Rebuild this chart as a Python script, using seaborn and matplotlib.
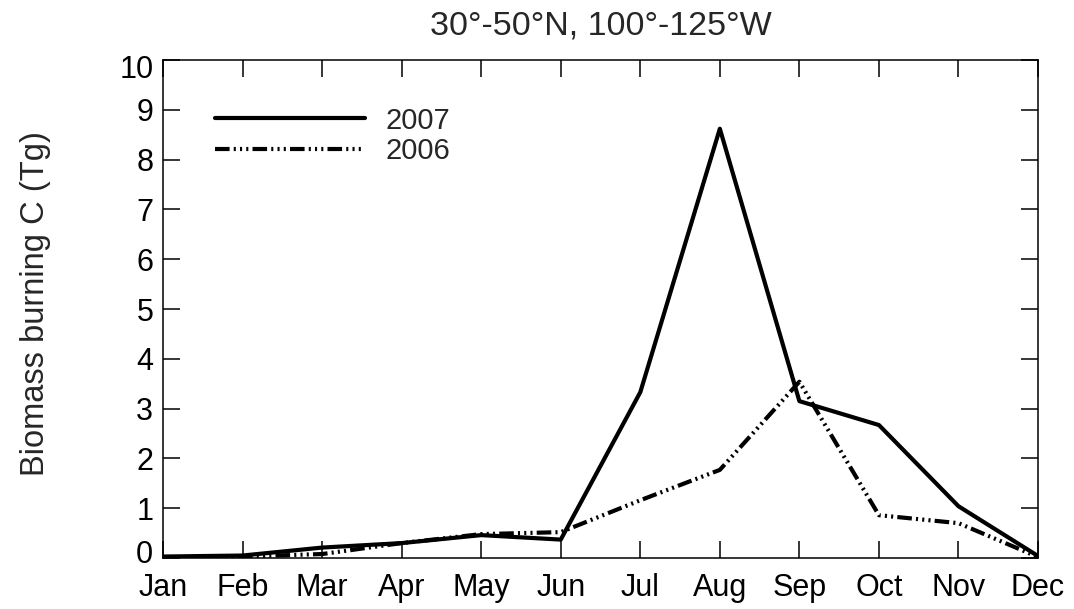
import matplotlib
matplotlib.use("Agg")
import matplotlib.pyplot as plt
import matplotlib.transforms as mtransforms
import seaborn as sns
import pandas as pd

months = ["Jan", "Feb", "Mar", "Apr", "May", "Jun",
          "Jul", "Aug", "Sep", "Oct", "Nov", "Dec"]
carbon_2007 = [0.03, 0.05, 0.21, 0.30, 0.46, 0.37, 3.33, 8.62, 3.15, 2.67, 1.04, 0.04]
carbon_2006 = [0.00, 0.03, 0.08, 0.30, 0.48, 0.52, 1.16, 1.77, 3.54, 0.86, 0.70, 0.02]
y_ticks = list(range(0, 11))

sns.set_theme(style="ticks")
plt.rcParams["font.family"] = ["Liberation Sans", "DejaVu Sans"]

df = pd.DataFrame({
    "month": list(range(12)) * 2,
    "carbon": carbon_2007 + carbon_2006,
    "year": ["2007"] * 12 + ["2006"] * 12,
})

fig = plt.figure(figsize=(10.74, 6.09), dpi=100)
ax = fig.add_axes([0.1518, 0.0837, 0.8147, 0.8178])

sns.lineplot(
    data=df, x="month", y="carbon", style="year",
    style_order=["2007", "2006"],
    dashes={"2007": "", "2006": (3.5, 1.0, 0.5, 1.0, 0.5, 1.0, 0.5, 1.0)},
    color="black", linewidth=3, ax=ax, legend=True,
)

ax.set_xlim(0, 11)
ax.set_ylim(0, 10)
ax.set_xticks(range(12))
ax.set_xticklabels(months)
ax.set_yticks(y_ticks)
ax.set_yticklabels([str(v) for v in y_ticks])
ax.tick_params(axis="both", direction="in", length=12, width=1.1,
               labelsize=22, colors="black", top=True, right=True)
ax.tick_params(axis="x", pad=11)
ax.tick_params(axis="y", pad=7)
for s in ax.spines.values():
    s.set_linewidth(1.1)
    s.set_color("black")

# nudge the end labels of the y axis inward, away from the corners
yticks = ax.yaxis.get_major_ticks()
for tick, dy in ((yticks[0], 7), (yticks[-1], -7)):
    tick.label1.set_transform(tick.label1.get_transform()
                              + mtransforms.ScaledTranslation(0, dy / 100, fig.dpi_scale_trans))

ax.set_xlabel("")
ax.set_ylabel("Biomass burning C (Tg)", fontsize=23.5)
ax.yaxis.set_label_coords(-0.128, 0.51)
ax.set_title("30°-50°N, 100°-125°W", fontsize=24.5, pad=18)

leg = ax.legend(loc="upper left", bbox_to_anchor=(0.046, 0.93), frameon=False,
                fontsize=21, handlelength=5.15, handletextpad=0.7,
                labelspacing=0.1, borderaxespad=0)

fig.savefig("out.png", dpi=100)
